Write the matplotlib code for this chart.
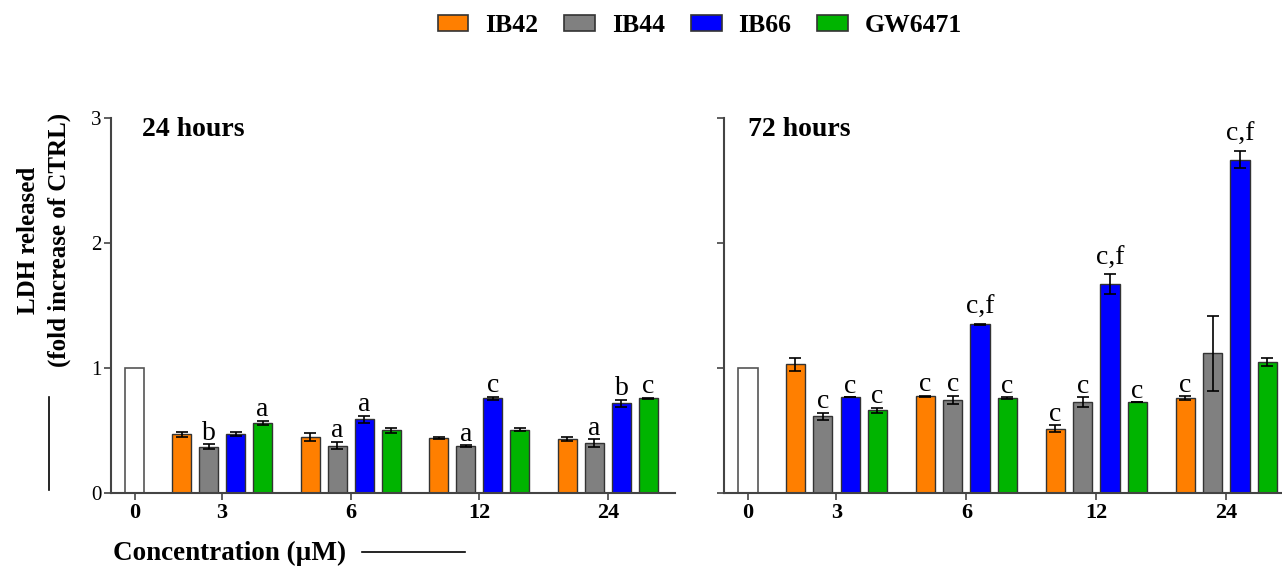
import numpy as np
import matplotlib.pyplot as plt
from matplotlib.patches import Patch
from matplotlib.lines import Line2D

plt.rcParams['font.family'] = ['Liberation Serif', 'DejaVu Serif']

# data
conc_labels = ['0', '3', '6', '12', '24']
compounds = ['IB42', 'IB44', 'IB66', 'GW6471']
colors = ['#FF7F00', '#808080', '#0000FF', '#00B400']
ctrl = 1.0

# 24 hours
ib42_24h = [0.47, 0.45, 0.44, 0.43]
ib42_24h_err = [0.02, 0.03, 0.01, 0.015]
ib44_24h = [0.37, 0.38, 0.375, 0.40]
ib44_24h_err = [0.02, 0.03, 0.01, 0.03]
ib66_24h = [0.475, 0.59, 0.757, 0.717]
ib66_24h_err = [0.015, 0.03, 0.015, 0.03]
gw_24h = [0.563, 0.504, 0.507, 0.757]
gw_24h_err = [0.015, 0.02, 0.01, 0.005]

lab_ib42_24h = ['', '', '', '']
lab_ib44_24h = ['b', 'a', 'a', 'a']
lab_ib66_24h = ['', 'a', 'c', 'b']
lab_gw_24h = ['a', '', '', 'c']

# 72 hours
ib42_72h = [1.03, 0.775, 0.515, 0.76]
ib42_72h_err = [0.05, 0.005, 0.03, 0.015]
ib44_72h = [0.613, 0.745, 0.729, 1.117]
ib44_72h_err = [0.03, 0.035, 0.04, 0.30]
ib66_72h = [0.769, 1.35, 1.668, 2.666]
ib66_72h_err = [0.0, 0.005, 0.08, 0.07]
gw_72h = [0.663, 0.761, 0.729, 1.048]
gw_72h_err = [0.02, 0.005, 0.0, 0.035]

lab_ib42_72h = ['', 'c', 'c', 'c']
lab_ib44_72h = ['c', 'c', 'c', '']
lab_ib66_72h = ['c', 'c,f', 'c,f', 'c,f']
lab_gw_72h = ['c', 'c', 'c', '']

# layout of the bars
group_pos = 3.24 + 4.76 * np.arange(4)
offsets = [-1.5, -0.5, 0.5, 1.5]
width = 0.7
edge = '#333333'


def draw_panel(ax, means, errs, labels, title, title_x, xlim, ylabels):
    ax.bar(0, ctrl, width, color='white', edgecolor='#555555', linewidth=1.2)
    for i in range(4):
        x = group_pos + offsets[i]
        ax.bar(x, means[i], width, color=colors[i], edgecolor=edge, linewidth=1.0)
        ax.errorbar(x, means[i], yerr=errs[i], fmt='none', ecolor='black',
                    elinewidth=1.2, capsize=4.5, capthick=1.2)
        for j in range(4):
            if labels[i][j]:
                gap = 0.08 if ',' in labels[i][j] else 0.035
                ax.text(x[j], means[i][j] + errs[i][j] + gap, labels[i][j],
                        ha='center', va='baseline', fontsize=20)
    ax.set_xlim(xlim)
    ax.set_ylim(0, 3)
    ax.set_yticks([0, 1, 2, 3])
    if ylabels:
        ax.set_yticklabels(['0', '1', '2', '3'], fontsize=15)
    else:
        ax.set_yticklabels([])
    ax.set_xticks(np.concatenate([[0], group_pos]))
    ax.set_xticklabels(conc_labels, fontsize=16, fontweight='bold')
    for s in ['top', 'right']:
        ax.spines[s].set_visible(False)
    for s in ['left', 'bottom']:
        ax.spines[s].set_color('#444444')
        ax.spines[s].set_linewidth(1.5)
    ax.tick_params(direction='out', length=5, width=1.2, color='#444444', pad=2)
    ax.text(title_x, 0.968, title, transform=ax.transAxes, fontsize=20,
            fontweight='bold', ha='left', va='center')


fig = plt.figure(figsize=(12.82, 5.67), dpi=100)
ax1 = fig.add_axes([0.0866, 0.1305, 0.4399, 0.6614])
ax2 = fig.add_axes([0.5647, 0.1305, 0.4353, 0.6614])

draw_panel(ax1,
           [ib42_24h, ib44_24h, ib66_24h, gw_24h],
           [ib42_24h_err, ib44_24h_err, ib66_24h_err, gw_24h_err],
           [lab_ib42_24h, lab_ib44_24h, lab_ib66_24h, lab_gw_24h],
           '24 hours', 0.055, (-0.87, 20.0), True)
draw_panel(ax2,
           [ib42_72h, ib44_72h, ib66_72h, gw_72h],
           [ib42_72h_err, ib44_72h_err, ib66_72h_err, gw_72h_err],
           [lab_ib42_72h, lab_ib44_72h, lab_ib66_72h, lab_gw_72h],
           '72 hours', 0.043, (-0.88, 19.56), False)

# legend on top
handles = [Patch(facecolor=c, edgecolor=edge, linewidth=1.2) for c in colors]
fig.legend(handles, compounds, loc='center', bbox_to_anchor=(0.546, 0.955),
           ncol=4, frameon=False, prop={'weight': 'bold', 'size': 18.5},
           handlelength=1.2, handleheight=0.62, handletextpad=0.66,
           columnspacing=1.0)

# axis titles
fig.text(44 / 1282, 1 - 240 / 567, 'LDH released\n(fold increase of CTRL)',
         rotation=90, ha='center', va='center', multialignment='center',
         fontsize=18, fontweight='bold', linespacing=1.4)
fig.add_artist(Line2D([49 / 1282, 49 / 1282], [1 - 397 / 567, 1 - 490 / 567],
                      color='black', linewidth=1.2))
fig.text(113 / 1282, 1 - 553 / 567, 'Concentration (\u00b5M)', ha='left',
         va='center', fontsize=19.5, fontweight='bold')
fig.add_artist(Line2D([362 / 1282, 465 / 1282], [1 - 552 / 567, 1 - 552 / 567],
                      color='black', linewidth=1.2))

fig.savefig('out.png', dpi=100)
